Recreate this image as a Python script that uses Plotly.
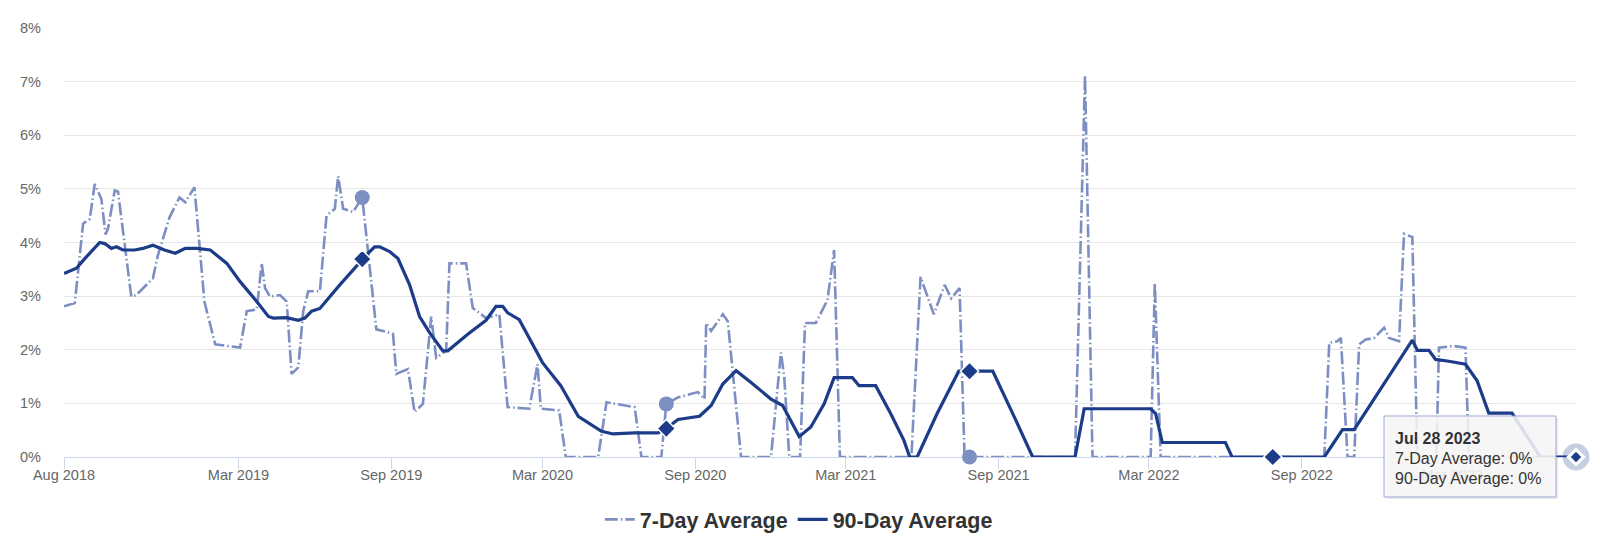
import plotly.graph_objects as go

# ---------------- data ----------------
dates_7d = [
    "2018-08-03", "2018-08-16", "2018-08-26", "2018-09-03", "2018-09-09", "2018-09-17",
    "2018-09-22", "2018-09-25", "2018-10-03", "2018-10-07", "2018-10-23", "2018-10-29",
    "2018-11-18", "2018-11-24", "2018-12-08", "2018-12-20", "2018-12-27", "2019-01-07",
    "2019-01-19", "2019-02-01", "2019-03-03", "2019-03-11", "2019-03-23", "2019-03-29",
    "2019-04-02", "2019-04-08", "2019-04-20", "2019-04-28", "2019-05-04", "2019-05-12",
    "2019-05-18", "2019-05-24", "2019-06-07", "2019-06-15", "2019-06-25", "2019-06-29",
    "2019-07-05", "2019-07-17", "2019-07-28", "2019-08-14", "2019-09-03", "2019-09-07",
    "2019-09-21", "2019-09-29", "2019-10-09", "2019-10-19", "2019-10-25", "2019-11-06",
    "2019-11-10", "2019-11-30", "2019-12-08", "2019-12-24", "2020-01-09", "2020-01-19",
    "2020-02-14", "2020-02-24", "2020-02-28", "2020-03-21", "2020-03-29", "2020-05-07",
    "2020-05-17", "2020-06-20", "2020-06-28", "2020-07-22", "2020-07-28", "2020-08-11",
    "2020-09-04", "2020-09-12", "2020-09-14", "2020-09-20", "2020-10-04", "2020-10-10",
    "2020-10-26", "2020-12-01", "2020-12-13", "2020-12-17", "2020-12-23", "2021-01-05",
    "2021-01-11", "2021-01-24", "2021-02-07", "2021-02-15", "2021-02-22", "2021-05-19",
    "2021-05-30", "2021-06-15", "2021-06-28", "2021-07-06", "2021-07-16", "2021-07-22",
    "2021-07-28", "2021-12-02", "2021-12-14", "2021-12-23", "2022-03-03", "2022-03-08",
    "2022-03-15", "2022-09-28", "2022-10-04", "2022-10-14", "2022-10-18", "2022-10-26",
    "2022-11-03", "2022-11-09", "2022-11-17", "2022-11-27", "2022-12-09", "2022-12-15",
    "2022-12-27", "2023-01-02", "2023-01-12", "2023-01-18", "2023-02-10", "2023-02-13",
    "2023-03-03", "2023-03-17", "2023-03-21", "2023-07-28",
]
values_7d = [
    2.81, 2.87, 4.35, 4.44, 5.09, 4.81,
    4.15, 4.26, 4.97, 4.95, 2.99, 3.02,
    3.33, 3.76, 4.47, 4.84, 4.75, 5.03,
    2.90, 2.10, 2.04, 2.72, 2.75, 3.61,
    3.15, 2.99, 3.02, 2.90, 1.55, 1.67,
    2.72, 3.09, 3.09, 4.50, 4.63, 5.24,
    4.63, 4.57, 4.84, 2.38, 2.30, 1.55,
    1.64, 0.84, 0.99, 2.62, 1.85, 1.98,
    3.61, 3.61, 2.78, 2.59, 2.66, 0.93,
    0.90, 1.73, 0.90, 0.87, 0.00, 0.00,
    1.02, 0.93, 0.00, 0.00, 0.99, 1.11,
    1.21, 1.08, 2.50, 2.35, 2.66, 2.53,
    0.00, 0.00, 1.95, 1.48, 0.00, 0.00,
    2.50, 2.50, 2.93, 3.86, 0.00, 0.00,
    3.36, 2.66, 3.21, 2.96, 3.15, 0.00,
    0.00, 0.00, 7.12, 0.00, 0.00, 3.24,
    0.00, 0.00, 2.13, 2.16, 2.22, 0.00,
    0.00, 2.10, 2.19, 2.22, 2.41, 2.22,
    2.16, 4.16, 4.10, 0.00, 0.00, 2.04,
    2.07, 2.04, 0.00, 0.00,
]

dates_90d = [
    "2018-08-03", "2018-08-18", "2018-08-28", "2018-09-05", "2018-09-15", "2018-09-21",
    "2018-09-29", "2018-10-05", "2018-10-13", "2018-10-27", "2018-11-06", "2018-11-18",
    "2018-12-02", "2018-12-15", "2018-12-27", "2019-01-10", "2019-01-26", "2019-02-15",
    "2019-03-03", "2019-03-23", "2019-04-06", "2019-04-12", "2019-04-28", "2019-05-12",
    "2019-05-20", "2019-05-28", "2019-06-07", "2019-07-01", "2019-07-28", "2019-08-04",
    "2019-08-12", "2019-08-18", "2019-08-30", "2019-09-09", "2019-09-23", "2019-10-05",
    "2019-10-17", "2019-11-02", "2019-11-08", "2019-12-02", "2019-12-24", "2020-01-05",
    "2020-01-13", "2020-01-19", "2020-02-02", "2020-02-18", "2020-03-01", "2020-03-23",
    "2020-04-13", "2020-05-11", "2020-05-25", "2020-06-20", "2020-07-18", "2020-07-28",
    "2020-08-11", "2020-09-06", "2020-09-20", "2020-10-04", "2020-10-20", "2020-11-07",
    "2020-12-01", "2020-12-15", "2021-01-04", "2021-01-18", "2021-02-03", "2021-02-15",
    "2021-03-09", "2021-03-17", "2021-04-06", "2021-04-24", "2021-05-10", "2021-05-17",
    "2021-05-26", "2021-06-19", "2021-07-15", "2021-07-28", "2021-08-25", "2021-09-18",
    "2021-10-12", "2021-12-02", "2021-12-13", "2022-03-03", "2022-03-09", "2022-03-17",
    "2022-06-01", "2022-06-09", "2022-07-28", "2022-09-28", "2022-10-20", "2022-11-03",
    "2023-01-12", "2023-01-18", "2023-02-01", "2023-02-09", "2023-02-23", "2023-03-17",
    "2023-03-31", "2023-04-14", "2023-05-12", "2023-06-15", "2023-07-28",
]
values_90d = [
    3.42, 3.52, 3.70, 3.83, 4.00, 3.98,
    3.89, 3.92, 3.86, 3.86, 3.89, 3.95,
    3.86, 3.80, 3.89, 3.89, 3.86, 3.61,
    3.27, 2.90, 2.62, 2.59, 2.60, 2.55,
    2.59, 2.72, 2.77, 3.21, 3.69, 3.80,
    3.92, 3.92, 3.83, 3.70, 3.21, 2.62,
    2.32, 1.98, 1.98, 2.29, 2.55, 2.81,
    2.81, 2.69, 2.56, 2.10, 1.76, 1.33,
    0.76, 0.48, 0.43, 0.45, 0.45, 0.53,
    0.70, 0.76, 0.96, 1.36, 1.61, 1.39,
    1.08, 0.96, 0.38, 0.56, 0.99, 1.48,
    1.48, 1.33, 1.33, 0.81, 0.31, 0.00,
    0.00, 0.81, 1.60, 1.60, 1.60, 0.81,
    0.00, 0.00, 0.90, 0.90, 0.81, 0.27,
    0.27, 0.00, 0.00, 0.00, 0.51, 0.51,
    2.18, 1.99, 1.99, 1.82, 1.79, 1.73,
    1.42, 0.82, 0.82, 0.00, 0.00,
]

marker_dates_7d = ["2019-07-28", "2020-07-28", "2021-07-28"]
marker_dates_90d = ["2019-07-28", "2020-07-28", "2021-07-28", "2022-07-28"]

tick_dates = ["2018-08-03", "2019-03-01", "2019-09-01", "2020-03-01", "2020-09-01",
              "2021-03-01", "2021-09-01", "2022-03-01", "2022-09-01", "2023-03-01"]
tick_labels = ["Aug 2018", "Mar 2019", "Sep 2019", "Mar 2020", "Sep 2020",
               "Mar 2021", "Sep 2021", "Mar 2022", "Sep 2022", "Mar 2023"]

y_range = [0, 8]
y_ticks = [0, 1, 2, 3, 4, 5, 6, 7, 8]
y_labels = [f"{v}%" for v in y_ticks]

x_start = "2018-08-03"
tooltip_date = "2023-07-28"
tooltip_title = "Jul 28 2023"

name_7d = "7-Day Average"
name_90d = "90-Day Average"

# ---------------- styling ----------------
C7 = "#7d8fc2"
C90 = "#1c3c8a"
FONT = "Liberation Sans, Arial, Helvetica, sans-serif"

lookup_7d = dict(zip(dates_7d, values_7d))
lookup_90d = dict(zip(dates_90d, values_90d))

fig = go.Figure()

fig.add_trace(go.Scatter(
    x=dates_7d, y=values_7d, name=name_7d, mode="lines",
    line=dict(color=C7, width=2.6, dash="13px,3px,1.5px,3px"),
    cliponaxis=False, hoverinfo="skip",
))
fig.add_trace(go.Scatter(
    x=dates_90d, y=values_90d, name=name_90d, mode="lines",
    line=dict(color=C90, width=3.2),
    cliponaxis=False, hoverinfo="skip",
))

# point markers (part of the series)
fig.add_trace(go.Scatter(
    x=marker_dates_7d, y=[lookup_7d[d] for d in marker_dates_7d],
    mode="markers", showlegend=False, cliponaxis=False, hoverinfo="skip",
    marker=dict(symbol="circle", size=15, color=C7, line=dict(width=0)),
))
fig.add_trace(go.Scatter(
    x=marker_dates_90d, y=[lookup_90d[d] for d in marker_dates_90d],
    mode="markers", showlegend=False, cliponaxis=False, hoverinfo="skip",
    marker=dict(symbol="diamond", size=14, color=C90, line=dict(width=1.5, color="white")),
))

# hovered end point: halo + diamond
tip_y = lookup_90d[tooltip_date]
fig.add_trace(go.Scatter(
    x=[tooltip_date], y=[tip_y], mode="markers", showlegend=False,
    cliponaxis=False, hoverinfo="skip",
    marker=dict(symbol="circle", size=27, color="rgba(28,60,138,0.25)", line=dict(width=0)),
))
fig.add_trace(go.Scatter(
    x=[tooltip_date], y=[tip_y], mode="markers", showlegend=False,
    cliponaxis=False, hoverinfo="skip",
    marker=dict(symbol="diamond", size=15, color="white", line=dict(width=0)),
))
fig.add_trace(go.Scatter(
    x=[tooltip_date], y=[tip_y], mode="markers", showlegend=False,
    cliponaxis=False, hoverinfo="skip",
    marker=dict(symbol="diamond", size=8, color=C90, line=dict(width=0)),
))

# tooltip box, anchored (in pixels) to the hovered point, which sits at the right end
tip_px = 1.0  # tooltip_date is the end of the x range
tip_py = (tip_y - y_range[0]) / (y_range[1] - y_range[0])
fig.add_shape(type="rect", xref="paper", yref="paper", xsizemode="pixel", ysizemode="pixel",
              xanchor=tip_px, yanchor=tip_py, x0=-190, x1=-18, y0=-42, y1=39,
              fillcolor="rgba(0,0,0,0.07)", line=dict(width=0), layer="above")
fig.add_shape(type="rect", xref="paper", yref="paper", xsizemode="pixel", ysizemode="pixel",
              xanchor=tip_px, yanchor=tip_py, x0=-192, x1=-20, y0=-40, y1=41,
              fillcolor="rgba(247,247,247,0.87)", line=dict(width=1, color="#9aaad4"),
              layer="above")

tip_lines = [
    (f"<b>{tooltip_title}</b>", 19),
    (f"{name_7d}: {lookup_7d[tooltip_date]:g}%", -1),
    (f"{name_90d}: {lookup_90d[tooltip_date]:g}%", -21),
]
for txt, dy in tip_lines:
    fig.add_annotation(x=tooltip_date, y=tip_y, xref="x", yref="y", text=txt,
                       showarrow=False, xanchor="left", yanchor="middle",
                       xshift=-183, yshift=dy,
                       font=dict(family=FONT, size=16, color="#333333"))

# the page has an 8px body margin, so the figure is 8px smaller and margins shifted
fig.update_layout(
    width=1592, height=544,
    margin=dict(l=48, r=24, t=16, b=87),
    paper_bgcolor="white", plot_bgcolor="white",
    font=dict(family=FONT, color="#666666"),
    showlegend=True,
    legend=dict(orientation="h", x=0.486, xanchor="center", y=-0.1455, yanchor="middle",
                font=dict(family=FONT, size=21.5, color="#333333", weight="bold"),
                bgcolor="rgba(0,0,0,0)"),
    hovermode=False,
)

fig.update_xaxes(
    type="date", range=[x_start, tooltip_date],
    tickvals=tick_dates, ticktext=tick_labels,
    showgrid=False, zeroline=False,
    showline=True, linecolor="#ccd6eb", linewidth=1,
    ticks="outside", ticklen=11, tickcolor="#ccd6eb", tickwidth=1,
    ticklabelstandoff=-6,
    tickfont=dict(family=FONT, size=14.5, color="#666666"),
    layer="below traces",
)
fig.update_yaxes(
    range=y_range, tickvals=y_ticks, ticktext=y_labels,
    showgrid=True, gridcolor="#e6e6e6", gridwidth=1,
    zeroline=False, showline=False, ticks="",
    ticklabelstandoff=22,
    tickfont=dict(family=FONT, size=14.5, color="#666666"),
    layer="below traces",
)

fig.write_html("out.html")
